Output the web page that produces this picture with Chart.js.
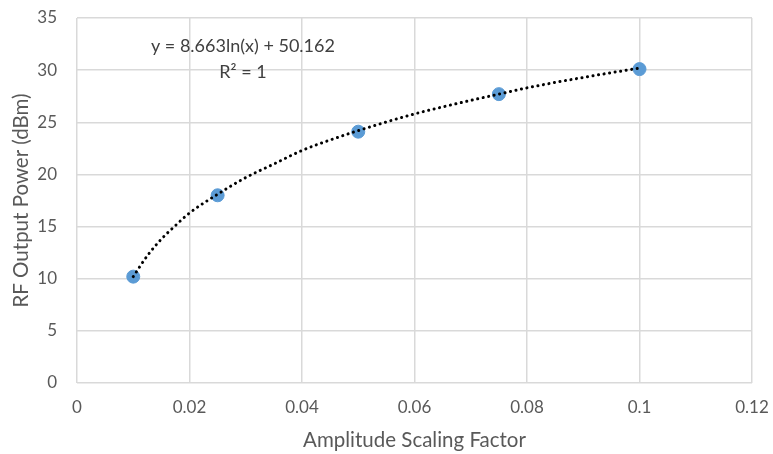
<!DOCTYPE html>
<html>
<head>
<meta charset="utf-8">
<script src="https://cdn.jsdelivr.net/npm/chart.js@4/dist/chart.umd.min.js"></script>
<style>
    html, body { margin: 0; padding: 0; background: #fff; }
    #wrap { width: 773px; height: 454px; }
</style>
</head>
<body>
<div id="wrap"><canvas id="chart"></canvas></div>
<script>
// Измеренные точки
const ampX = [0.01, 0.025, 0.05, 0.075, 0.1];
const powerY = [10.2, 18.0, 24.1, 27.7, 30.1];

// Линия тренда
const trendX = [0.01, 0.0125, 0.015, 0.0175, 0.02, 0.025, 0.03, 0.035, 0.04, 0.045, 0.05, 0.06, 0.07, 0.075, 0.08, 0.09, 0.1];
const trendY = [10.2, 12.2, 13.8, 15.1, 16.3, 18.1, 19.7, 21.0, 22.3, 23.3, 24.2, 25.8, 27.1, 27.7, 28.3, 29.3, 30.2];

const trendLabel = ['y = 8.663ln(x) + 50.162', 'R\u00B2 = 1'];

const FONT = 'Lato, "Open Sans", sans-serif';
const TEXT_COLOR = '#595959';
const GRID_COLOR = '#d9d9d9';

// Подпись уравнения тренда
const trendTextPlugin = {
    id: 'trendText',
    afterDraw(chart) {
        const ctx = chart.ctx;
        const xs = chart.scales.x;
        const ys = chart.scales.y;
        const cx = xs.getPixelForValue(0.0295);
        ctx.save();
        ctx.font = '18px ' + FONT;
        ctx.fillStyle = '#404040';
        ctx.textAlign = 'center';
        ctx.textBaseline = 'middle';
        ctx.fillText(trendLabel[0], cx, ys.getPixelForValue(32.3));
        ctx.fillText(trendLabel[1], cx, ys.getPixelForValue(29.8));
        ctx.restore();
    }
};

const points = ampX.map((x, i) => ({ x: x, y: powerY[i] }));
const trend = trendX.map((x, i) => ({ x: x, y: trendY[i] }));

new Chart(document.getElementById('chart'), {
    type: 'scatter',
    data: {
        datasets: [
            {
                label: 'Trend',
                data: trend,
                showLine: true,
                borderColor: '#000',
                borderWidth: 3,
                borderDash: [0.1, 5.5],
                borderCapStyle: 'round',
                cubicInterpolationMode: 'monotone',
                pointRadius: 0,
                order: 0
            },
            {
                label: 'RF Output Power',
                data: points,
                backgroundColor: '#5b9bd5',
                borderColor: '#5b9bd5',
                pointRadius: 6.5,
                order: 1
            }
        ]
    },
    options: {
        responsive: true,
        maintainAspectRatio: false,
        animation: false,
        layout: { padding: { top: 18, right: 21, left: 0, bottom: 0 } },
        plugins: {
            legend: { display: false },
            tooltip: { enabled: false }
        },
        scales: {
            x: {
                type: 'linear',
                min: 0,
                max: 0.12,
                afterFit: s => { s.height = 71; s.paddingLeft = 0; s.paddingRight = 0; },
                ticks: {
                    stepSize: 0.02,
                    color: TEXT_COLOR,
                    font: { family: FONT, size: 17 },
                    padding: 14,
                    callback: v => Math.round(v * 100) / 100
                },
                grid: { color: GRID_COLOR, lineWidth: 1.5, drawTicks: false },
                border: { display: false },
                title: {
                    display: true,
                    text: 'Amplitude Scaling Factor',
                    color: TEXT_COLOR,
                    font: { family: FONT, size: 20.5 },
                    padding: { top: 0, bottom: 1 }
                }
            },
            y: {
                min: 0,
                max: 35,
                afterFit: s => { s.width = 77; s.paddingTop = 0; s.paddingBottom = 0; },
                ticks: {
                    stepSize: 5,
                    color: TEXT_COLOR,
                    font: { family: FONT, size: 17 },
                    padding: 20
                },
                grid: { color: GRID_COLOR, lineWidth: 1.5, drawTicks: false },
                border: { display: false },
                title: {
                    display: true,
                    text: 'RF Output Power (dBm)',
                    color: TEXT_COLOR,
                    font: { family: FONT, size: 20.5 },
                    padding: { top: 9, bottom: 0 }
                }
            }
        }
    },
    plugins: [trendTextPlugin]
});
</script>
</body>
</html>
